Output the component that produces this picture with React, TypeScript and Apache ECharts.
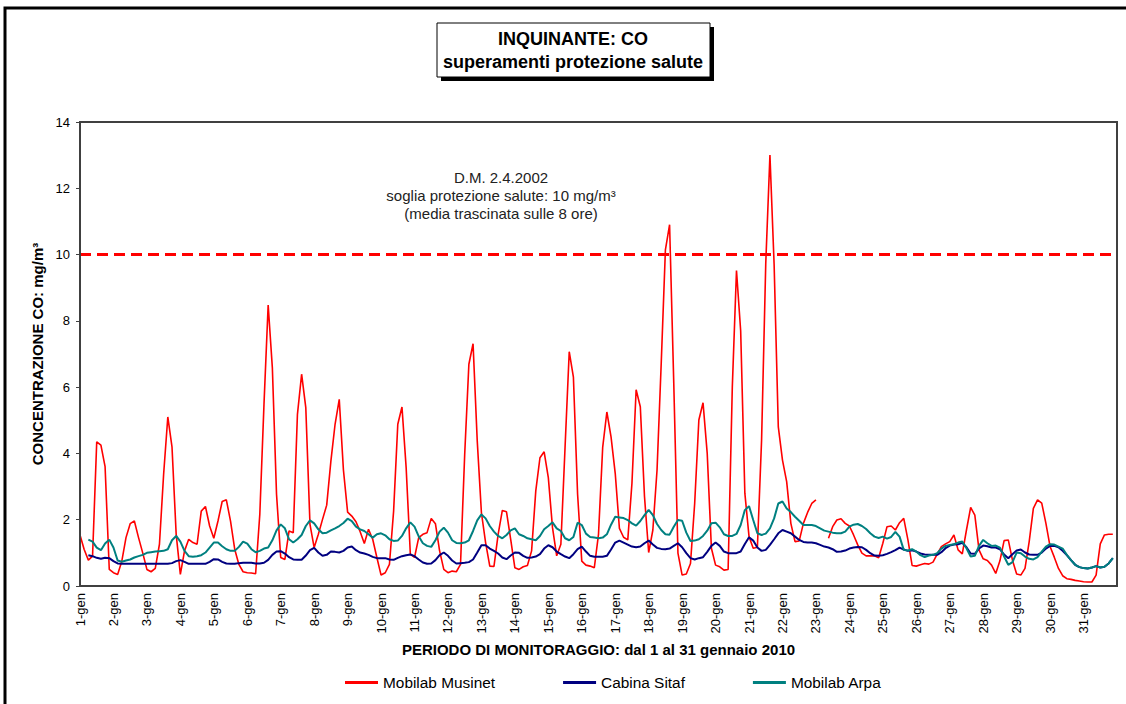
import React, { useEffect, useRef } from "react";
import * as echarts from "echarts";

// sampling step of the series (hours)
const STEP_HOURS = 3;
const DAYS = 31;
const dayLabels: string[] = Array.from({ length: DAYS }, (_, i) => `${i + 1}-gen`);
const THRESHOLD = 10;

// Mobilab Musinet (8 values per day, every 3 hours)
const musinet: (number | null)[] = [
  1.54, 1.10, 0.78, 0.90, 4.35, 4.25, 3.60, 0.50,
  0.40, 0.35, 0.75, 1.46, 1.88, 1.96, 1.46, 1.00,
  0.50, 0.43, 0.53, 1.26, 3.37, 5.10, 4.20, 1.56,
  0.35, 1.06, 1.41, 1.31, 1.26, 2.26, 2.40, 1.81,
  1.44, 1.96, 2.55, 2.60, 1.96, 1.11, 0.65, 0.43,
  0.40, 0.39, 0.37, 2.16, 5.48, 8.48, 6.59, 2.77,
  0.86, 0.80, 1.66, 1.61, 5.18, 6.39, 5.38, 1.86,
  1.16, 1.56, 2.01, 2.44, 3.77, 4.88, 5.63, 3.50,
  2.23, 2.11, 1.94, 1.64, 1.28, 1.71, 1.41, 0.86,
  0.33, 0.40, 0.65, 2.26, 4.88, 5.40, 3.57, 0.96,
  0.86, 1.46, 1.56, 1.61, 2.04, 1.88, 1.06, 0.50,
  0.40, 0.45, 0.43, 0.65, 3.97, 6.69, 7.31, 4.38,
  2.21, 1.31, 0.60, 0.59, 1.56, 2.28, 2.24, 1.41,
  0.55, 0.50, 0.58, 0.62, 1.06, 2.87, 3.87, 4.05,
  3.27, 1.76, 0.91, 1.26, 4.18, 7.07, 6.30, 2.77,
  0.75, 0.63, 0.60, 0.55, 1.56, 4.18, 5.25, 4.50,
  3.40, 1.74, 1.47, 1.39, 3.10, 5.92, 5.41, 2.70,
  1.01, 1.69, 3.50, 6.72, 10.14, 10.90, 6.12, 0.99,
  0.33, 0.36, 0.68, 2.49, 5.01, 5.53, 4.00, 1.14,
  0.63, 0.58, 0.48, 0.50, 6.00, 9.52, 7.70, 2.80,
  1.49, 1.14, 1.17, 4.40, 9.74, 13.00, 9.70, 4.80,
  3.80, 3.15, 1.89, 1.34, 1.36, 1.89, 2.22, 2.49,
  2.60, null, null, 1.44, 1.79, 1.99, 2.03, 1.89,
  1.81, 1.54, 1.24, 0.99, 0.91, 0.91, 0.91, 0.85,
  1.29, 1.79, 1.81, 1.69, 1.91, 2.04, 1.39, 0.62,
  0.60, 0.64, 0.68, 0.66, 0.72, 0.96, 1.19, 1.27,
  1.34, 1.54, 1.09, 0.97, 1.69, 2.37, 2.14, 1.09,
  0.82, 0.77, 0.63, 0.38, 0.76, 1.37, 1.39, 0.78,
  0.36, 0.33, 0.53, 1.34, 2.34, 2.60, 2.50, 1.89,
  1.19, 0.87, 0.53, 0.31, 0.22, 0.20, 0.17, 0.15,
  0.13, 0.12, 0.12, 0.33, 1.27, 1.54, 1.56, 1.56,
];

// Cabina Sitaf
const sitaf: (number | null)[] = [
  null, null, 0.93, 0.90, 0.85, 0.82, 0.85, 0.84,
  0.75, 0.68, 0.67, 0.67, 0.67, 0.67, 0.67, 0.67,
  0.67, 0.67, 0.67, 0.67, 0.67, 0.67, 0.69, 0.75,
  0.78, 0.73, 0.67, 0.67, 0.67, 0.67, 0.67, 0.73,
  0.81, 0.80, 0.73, 0.68, 0.67, 0.67, 0.69, 0.70,
  0.70, 0.70, 0.68, 0.68, 0.70, 0.79, 0.94, 1.04,
  1.05, 0.98, 0.87, 0.80, 0.79, 0.79, 0.92, 1.08,
  1.15, 1.01, 0.91, 0.94, 1.04, 1.03, 1.01, 1.06,
  1.16, 1.19, 1.08, 1.01, 0.98, 0.94, 0.88, 0.84,
  0.84, 0.84, 0.80, 0.79, 0.85, 0.90, 0.93, 0.95,
  0.90, 0.80, 0.71, 0.67, 0.68, 0.78, 0.93, 1.01,
  0.91, 0.77, 0.68, 0.69, 0.70, 0.72, 0.80, 1.01,
  1.23, 1.23, 1.13, 1.06, 0.98, 0.86, 0.81, 0.92,
  1.01, 1.00, 0.91, 0.85, 0.86, 0.89, 0.96, 1.13,
  1.23, 1.17, 1.04, 0.96, 0.89, 0.84, 0.96, 1.11,
  1.19, 1.04, 0.91, 0.88, 0.88, 0.88, 0.91, 1.10,
  1.31, 1.37, 1.31, 1.25, 1.19, 1.17, 1.19, 1.29,
  1.37, 1.25, 1.15, 1.12, 1.11, 1.13, 1.21, 1.29,
  1.17, 0.99, 0.84, 0.80, 0.84, 0.87, 1.03, 1.21,
  1.31, 1.21, 1.04, 0.99, 0.99, 0.99, 1.04, 1.27,
  1.47, 1.37, 1.16, 1.06, 1.09, 1.24, 1.41, 1.59,
  1.69, 1.64, 1.59, 1.49, 1.39, 1.33, 1.31, 1.31,
  1.29, 1.24, 1.19, 1.16, 1.11, 1.03, 1.04, 1.07,
  1.13, 1.16, 1.18, 1.17, 1.09, 0.99, 0.92, 0.91,
  0.93, 0.97, 1.02, 1.08, 1.16, 1.10, 1.06, 1.08,
  1.04, 0.98, 0.95, 0.94, 0.94, 0.94, 1.02, 1.14,
  1.22, 1.25, 1.26, 1.30, 1.17, 0.98, 0.97, 1.13,
  1.22, 1.20, 1.16, 1.16, 1.11, 0.95, 0.84, 0.96,
  1.07, 1.10, 1.01, 0.95, 0.94, 0.94, 1.01, 1.13,
  1.21, 1.21, 1.17, 1.06, 0.93, 0.78, 0.64, 0.57,
  0.54, 0.53, 0.56, 0.60, 0.56, 0.58, 0.68, 0.84,
];

// Mobilab Arpa
const arpa: (number | null)[] = [
  null, null, 1.40, 1.34, 1.16, 1.08, 1.28, 1.40,
  1.16, 0.77, 0.73, 0.77, 0.80, 0.86, 0.90, 0.94,
  1.00, 1.02, 1.04, 1.05, 1.06, 1.11, 1.38, 1.51,
  1.34, 1.06, 0.90, 0.88, 0.90, 0.93, 1.01, 1.16,
  1.31, 1.31, 1.20, 1.11, 1.06, 1.06, 1.18, 1.34,
  1.28, 1.11, 1.02, 1.06, 1.13, 1.16, 1.38, 1.68,
  1.86, 1.74, 1.41, 1.31, 1.41, 1.54, 1.81, 1.98,
  1.89, 1.71, 1.59, 1.61, 1.68, 1.74, 1.81, 1.90,
  2.03, 1.96, 1.79, 1.71, 1.66, 1.56, 1.46, 1.56,
  1.59, 1.53, 1.41, 1.36, 1.37, 1.51, 1.74, 1.92,
  1.79, 1.50, 1.29, 1.21, 1.18, 1.38, 1.64, 1.76,
  1.61, 1.38, 1.30, 1.29, 1.31, 1.38, 1.66, 1.98,
  2.16, 2.04, 1.81, 1.64, 1.51, 1.44, 1.54, 1.68,
  1.74, 1.56, 1.51, 1.44, 1.41, 1.38, 1.51, 1.71,
  1.81, 1.92, 1.74, 1.66, 1.44, 1.38, 1.48, 1.91,
  1.84, 1.58, 1.48, 1.46, 1.44, 1.46, 1.56, 1.85,
  2.09, 2.07, 2.05, 1.99, 1.89, 1.82, 1.96, 2.14,
  2.30, 2.14, 1.87, 1.69, 1.56, 1.55, 1.79, 1.99,
  1.97, 1.61, 1.36, 1.37, 1.41, 1.51, 1.67, 1.89,
  1.91, 1.77, 1.56, 1.51, 1.51, 1.57, 1.84, 2.29,
  2.41, 1.99, 1.59, 1.54, 1.58, 1.74, 2.04, 2.49,
  2.55, 2.34, 2.23, 2.09, 1.97, 1.84, 1.84, 1.84,
  1.81, 1.74, 1.67, 1.64, 1.61, 1.59, 1.59, 1.64,
  1.79, 1.85, 1.87, 1.81, 1.72, 1.59, 1.49, 1.45,
  1.49, 1.43, 1.48, 1.63, 1.49, 1.09, 1.07, 1.11,
  1.04, 0.93, 0.87, 0.92, 0.94, 0.99, 1.13, 1.21,
  1.24, 1.26, 1.31, 1.34, 1.14, 0.89, 0.91, 1.21,
  1.39, 1.29, 1.21, 1.22, 1.16, 0.89, 0.64, 0.72,
  1.01, 0.99, 0.89, 0.82, 0.80, 0.87, 1.04, 1.19,
  1.26, 1.25, 1.19, 1.13, 0.94, 0.78, 0.64, 0.57,
  0.54, 0.53, 0.56, 0.60, 0.56, 0.58, 0.68, 0.84,
];

const seriesNames = ["Mobilab Musinet", "Cabina Sitaf", "Mobilab Arpa"];
const seriesColors = ["#ff0000", "#000080", "#008080"];

const toPairs = (arr: (number | null)[]) =>
  arr.map((v, i) => [(i * STEP_HOURS) / 24, v == null ? "-" : v]);

const FONT = "'Liberation Sans', Arial, Helvetica, sans-serif";

export default function App() {
  const ref = useRef<HTMLDivElement>(null);

  useEffect(() => {
    if (!ref.current) return;
    const chart = echarts.init(ref.current, undefined, { renderer: "svg" });
    const allData = [musinet, sitaf, arpa];

    chart.setOption({
      animation: false,
      backgroundColor: "#ffffff",
      textStyle: { fontFamily: FONT },
      grid: { left: 80, right: 9, top: 122, bottom: 118, containLabel: false },
      xAxis: {
        type: "value",
        min: 0,
        max: DAYS,
        interval: 1,
        axisLine: { show: true, lineStyle: { color: "#404040", width: 2 } },
        axisTick: { show: false },
        splitLine: { show: false },
        axisLabel: {
          rotate: 90,
          margin: 7,
          fontSize: 13,
          color: "#000",
          fontFamily: FONT,
          formatter: (v: number) => dayLabels[Math.round(v)] ?? "",
        },
        name: "PERIODO DI MONITORAGGIO: dal 1 al 31 gennaio 2010",
        nameLocation: "middle",
        nameGap: 56,
        nameTextStyle: { fontWeight: "bold", fontSize: 15, color: "#000", fontFamily: FONT },
      },
      yAxis: {
        type: "value",
        min: 0,
        max: 14,
        interval: 2,
        axisLine: { show: true, lineStyle: { color: "#404040", width: 2 } },
        axisTick: { show: true, length: 4, lineStyle: { color: "#404040", width: 1 } },
        splitLine: { show: false },
        axisLabel: { fontSize: 13, color: "#000", margin: 10, fontFamily: FONT },
        name: "CONCENTRAZIONE CO: mg/m³",
        nameLocation: "middle",
        nameGap: 30,
        nameTextStyle: { fontWeight: "bold", fontSize: 15, color: "#000", fontFamily: FONT },
      },
      legend: {
        left: 345,
        top: 675,
        padding: 0,
        itemWidth: 33,
        itemHeight: 3,
        itemGap: 68,
        icon: "rect",
        textStyle: { fontSize: 15.4, color: "#000", fontFamily: FONT },
        data: seriesNames,
      },
      graphic: [
        {
          type: "rect",
          shape: { x: 5, y: 8, width: 1300, height: 900 },
          style: { fill: "none", stroke: "#000", lineWidth: 3 },
          silent: true,
        },
        {
          type: "rect",
          shape: { x: 80, y: 122, width: 1037, height: 464 },
          style: { fill: "none", stroke: "#404040", lineWidth: 2 },
          silent: true,
          z: 10,
        },
        {
          type: "rect",
          shape: { x: 441, y: 27, width: 273, height: 54 },
          style: { fill: "#000" },
          silent: true,
        },
        {
          type: "rect",
          shape: { x: 437, y: 23, width: 273, height: 54 },
          style: { fill: "#fff", stroke: "#000", lineWidth: 1 },
          silent: true,
        },
        {
          type: "text",
          x: 573,
          y: 39,
          style: {
            text: "INQUINANTE: CO",
            align: "center",
            verticalAlign: "middle",
            font: `bold 18px ${FONT}`,
            fill: "#000",
          },
        },
        {
          type: "text",
          x: 573,
          y: 62,
          style: {
            text: "superamenti protezione salute",
            align: "center",
            verticalAlign: "middle",
            font: `bold 18px ${FONT}`,
            fill: "#000",
          },
        },
        {
          type: "text",
          x: 501,
          y: 177,
          style: {
            text: "D.M. 2.4.2002",
            align: "center",
            verticalAlign: "middle",
            font: `15px ${FONT}`,
            fill: "#222",
          },
        },
        {
          type: "text",
          x: 501,
          y: 195,
          style: {
            text: "soglia protezione salute: 10 mg/m³",
            align: "center",
            verticalAlign: "middle",
            font: `15px ${FONT}`,
            fill: "#222",
          },
        },
        {
          type: "text",
          x: 501,
          y: 213,
          style: {
            text: "(media trascinata sulle 8 ore)",
            align: "center",
            verticalAlign: "middle",
            font: `15px ${FONT}`,
            fill: "#222",
          },
        },
      ],
      series: seriesNames.map((name, idx) => ({
        name,
        type: "line",
        data: toPairs(allData[idx]),
        showSymbol: false,
        symbol: "none",
        connectNulls: false,
        color: seriesColors[idx],
        lineStyle: { color: seriesColors[idx], width: idx === 0 ? 1.6 : 2 },
        z: 2 + idx,
        markLine:
          idx === 0
            ? {
                silent: true,
                symbol: "none",
                label: { show: false },
                lineStyle: { color: "#ff0000", type: [11, 6], width: 3 },
                data: [{ yAxis: THRESHOLD }],
              }
            : undefined,
      })),
    });

    return () => chart.dispose();
  }, []);

  return (
    <div
      ref={ref}
      style={{ position: "absolute", left: 0, top: 0, width: 1126, height: 704 }}
    />
  );
}
